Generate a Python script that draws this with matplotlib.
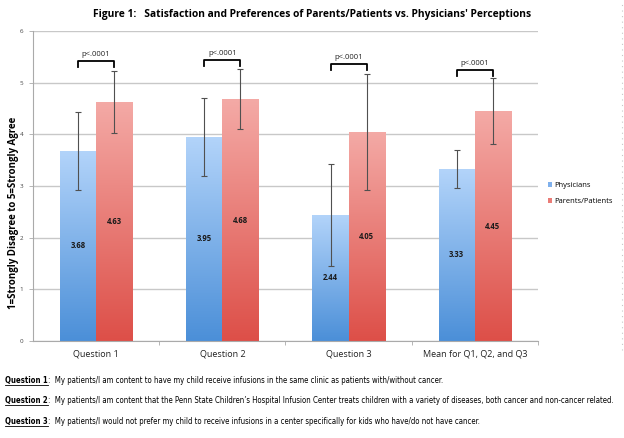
import numpy as np
import matplotlib
matplotlib.use("Agg")
import matplotlib.pyplot as plt
from matplotlib.lines import Line2D
from matplotlib import font_manager as fm

categories = ["Question 1", "Question 2", "Question 3", "Mean for Q1, Q2, and Q3"]
physicians = [3.68, 3.95, 2.44, 3.33]
parents = [4.63, 4.68, 4.05, 4.45]
phys_err = [0.76, 0.76, 0.98, 0.37]
par_err = [0.60, 0.58, 1.12, 0.64]
bracket_y = [5.43, 5.45, 5.37, 5.25]
p_labels = ["p<.0001", "p<.0001", "p<.0001", "p<.0001"]
series_names = ["Physicians", "Parents/Patients"]
yticks = [0, 1, 2, 3, 4, 5, 6]
title = "Figure 1:   Satisfaction and Preferences of Parents/Patients vs. Physicians' Perceptions"
notes = [
    ("Question 1", ":  My patients/I am content to have my child receive infusions in the same clinic as patients with/without cancer."),
    ("Question 2", ":  My patients/I am content that the Penn State Children\u2019s Hospital Infusion Center treats children with a variety of diseases, both cancer and non-cancer related."),
    ("Question 3", ":  My patients/I would not prefer my child to receive infusions in a center specifically for kids who have/do not have cancer."),
]

plt.rcParams['font.family'] = ['Open Sans', 'DejaVu Sans']

# look for a condensed face for the footnotes (Calibri-like narrow text)
def find_condensed(bold):
    cands = []
    for f in fm.fontManager.ttflist:
        nm = f.name
        fn = f.fname.lower()
        is_cond = (str(f.stretch) in ('condensed', 'semi-condensed', '75', '87', '62')
                   or 'condensed' in fn or 'narrow' in fn or 'Narrow' in nm or 'Condensed' in nm)
        if not is_cond or 'extra' in fn.split('/')[-1] or 'ultra' in fn:
            continue
        if 'mono' in fn or 'serif' in fn.replace('sans-serif', ''):
            continue
        wbold = f.weight in (700, 'bold') or 'bold' in fn
        if 'italic' in fn or 'oblique' in fn:
            continue
        if wbold != bold:
            continue
        cands.append(f.fname)
    return cands[0] if cands else None

reg_path = find_condensed(False)
bold_path = find_condensed(True)
if reg_path:
    fp_reg = fm.FontProperties(fname=reg_path)
else:
    fp_reg = fm.FontProperties(family=['Liberation Sans', 'DejaVu Sans'])
if bold_path:
    fp_bold = fm.FontProperties(fname=bold_path)
else:
    fp_bold = fm.FontProperties(family=['Liberation Sans', 'DejaVu Sans'], weight='bold')

fig = plt.figure(figsize=(6.24, 4.38), dpi=100)
ax = fig.add_axes([0.053, 0.2215, 0.809, 0.7075])

x = np.arange(len(categories))
w = 0.286

def grad_bar(ax, xc, h, top_c, bot_c):
    bars = ax.bar(xc, h, w, color='none', edgecolor='none', zorder=2)
    b = bars[0]
    n = 256
    c1 = np.array(matplotlib.colors.to_rgb(top_c))
    c2 = np.array(matplotlib.colors.to_rgb(bot_c))
    t = np.linspace(0, 1, n)[:, None]
    img = (c1 * (1 - t) + c2 * t)[:, None, :]
    im = ax.imshow(img, extent=[xc - w / 2, xc + w / 2, 0, h], aspect='auto',
                   origin='upper', zorder=2)
    im.set_clip_path(b)
    return b

for i in range(len(categories)):
    grad_bar(ax, x[i] - w / 2, physicians[i], '#b3d4fa', '#4b8fd8')
    grad_bar(ax, x[i] + w / 2, parents[i], '#f4aaa6', '#dd4f48')

ax.errorbar(x - w / 2, physicians, yerr=phys_err, fmt='none', ecolor='#505050',
            elinewidth=0.8, capsize=2.5, capthick=0.8, zorder=4)
ax.errorbar(x + w / 2, parents, yerr=par_err, fmt='none', ecolor='#505050',
            elinewidth=0.8, capsize=2.5, capthick=0.8, zorder=4)

for i in range(len(categories)):
    ax.text(x[i] - w / 2, physicians[i] / 2, f"{physicians[i]:.2f}", ha='center', va='center',
            fontsize=5.5, fontweight='bold', color='#1a1a1a', zorder=5)
    ax.text(x[i] + w / 2, parents[i] / 2, f"{parents[i]:.2f}", ha='center', va='center',
            fontsize=5.5, fontweight='bold', color='#1a1a1a', zorder=5)
    by = bracket_y[i]
    ax.plot([x[i] - w / 2, x[i] - w / 2, x[i] + w / 2, x[i] + w / 2],
            [by - 0.12, by, by, by - 0.12], color='black', lw=1.3, zorder=5,
            solid_joinstyle='round', clip_on=False)
    ax.text(x[i], by + 0.05, p_labels[i], ha='center', va='bottom', fontsize=5.5, color='#222222')

# legend proxies
ax.bar([0], [0], color='#7fb0ec', label=series_names[0])
ax.bar([0], [0], color='#ea7c77', label=series_names[1])

ax.set_xlim(-0.5, 3.5)
ax.set_ylim(0, 6)
ax.set_yticks(yticks)
ax.set_yticklabels([str(v) for v in yticks], fontsize=4.5, color='#444444')
ax.yaxis.grid(True, color='#c8c8c8', lw=1.0, zorder=0)
ax.set_axisbelow(True)
ax.tick_params(axis='y', length=3, color='#aaaaaa', width=0.6, pad=4)
ax.set_xticks(x)
ax.set_xticklabels(categories, fontsize=6.5, color='#222222')
ax.tick_params(axis='x', length=0, pad=6)
ax.set_xticks([0.5, 1.5, 2.5, 3.5], minor=True)
ax.tick_params(axis='x', which='minor', length=3, color='#aaaaaa', width=0.6)
for s in ['top', 'right']:
    ax.spines[s].set_visible(False)
ax.spines['left'].set_color('#aaaaaa')
ax.spines['bottom'].set_color('#aaaaaa')
ax.spines['left'].set_linewidth(0.8)
ax.spines['bottom'].set_linewidth(0.8)
ax.set_ylabel("1=Strongly Disagree to 5=Strongly Agree", fontsize=7, fontweight='bold')
ax.yaxis.set_label_coords(-0.028, 0.415)

leg = ax.legend(loc='center left', bbox_to_anchor=(1.006, 0.475), frameon=False,
                fontsize=5.5, handlelength=0.55, handleheight=0.55, handletextpad=0.3,
                labelspacing=1.2)

# faint dotted artefact line at the right edge, as in the reference
fig.add_artist(Line2D([0.997, 0.997], [0.2, 1.0], color='#c8c8c8', lw=0.8,
                      linestyle=(0, (1, 4)), transform=fig.transFigure))

fig.canvas.draw()
renderer = fig.canvas.get_renderer()

# title fitted to the reference span (about 95 to 530 px)
tt = fig.text(0.5, 1 - 15 / 438, title, ha='center', va='center', fontsize=8.5, fontweight='bold')
tw = tt.get_window_extent(renderer).width
tt.set_fontsize(8.5 * 435.0 / tw)

# footnotes fitted so the longest line spans about 609 px like the reference
fs = 6.0
p1 = fig.text(0, 0, notes[1][0], fontproperties=fp_bold, fontsize=fs)
p2 = fig.text(0, 0, notes[1][1], fontproperties=fp_reg, fontsize=fs)
wtot = p1.get_window_extent(renderer).width + p2.get_window_extent(renderer).width
p1.remove(); p2.remove()
fs = min(7.0, fs * 607.0 / wtot)

ys = [1 - 383 / 438, 1 - 403 / 438, 1 - 424 / 438]
for (lab, rest), yy in zip(notes, ys):
    t1 = fig.text(5 / 624, yy, lab, ha='left', va='baseline', fontproperties=fp_bold, fontsize=fs)
    fig.canvas.draw()
    bb = t1.get_window_extent(renderer).transformed(fig.transFigure.inverted())
    fig.add_artist(Line2D([bb.x0, bb.x1], [yy - 0.004, yy - 0.004], color='black', lw=0.6,
                          transform=fig.transFigure))
    fig.text(bb.x1, yy, rest, ha='left', va='baseline', fontproperties=fp_reg, fontsize=fs)

fig.savefig("out.png", dpi=100)
